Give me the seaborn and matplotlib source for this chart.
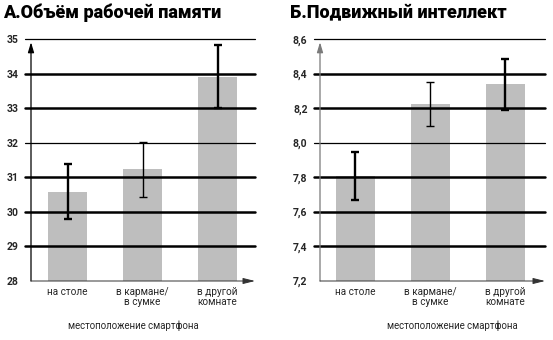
import matplotlib
matplotlib.use("Agg")
import matplotlib.pyplot as plt
import seaborn as sns
import pandas as pd

categories = ["на столе", "в кармане/\nв сумке", "в другой\nкомнате"]

wm_values = [30.59, 31.24, 33.92]
wm_errors = [0.80, 0.80, 0.92]
wm_ticks = [28, 29, 30, 31, 32, 33, 34, 35]
wm_ticklabels = ["28", "29", "30", "31", "32", "33", "34", "35"]

fi_values = [7.81, 8.225, 8.34]
fi_errors = [0.14, 0.13, 0.147]
fi_ticks = [7.2, 7.4, 7.6, 7.8, 8.0, 8.2, 8.4, 8.6]
fi_ticklabels = ["7,2", "7,4", "7,6", "7,8", "8,0", "8,2", "8,4", "8,6"]

titles = ["А.Объём рабочей памяти", "Б.Подвижный интеллект"]
xlabel = "местоположение смартфона"

sns.set_theme(style="white")
plt.rcParams["font.family"] = ["Roboto", "DejaVu Sans"]

W, H = 553, 340
fig = plt.figure(figsize=(W / 100, H / 100), dpi=100)

panels = [
    dict(left=31, right=255, xlim=(-0.487, 2.5), values=wm_values, errors=wm_errors,
         ticks=wm_ticks, labels=wm_ticklabels, thin=[32, 35], spine="black",
         title_x=3, xl_x=133),
    dict(left=320, right=545, xlim=(-0.473, 2.527), values=fi_values, errors=fi_errors,
         ticks=fi_ticks, labels=fi_ticklabels, thin=[8.0, 8.6], spine="#7a7a7a",
         title_x=290, xl_x=452),
]

top_px, bot_px = 39.3, 281
for i, p in enumerate(panels):
    ax = fig.add_axes([p["left"] / W, 1 - bot_px / H, (p["right"] - p["left"]) / W,
                       (bot_px - top_px) / H])
    df = pd.DataFrame({"cat": categories, "val": p["values"]})
    sns.barplot(data=df, x="cat", y="val", color="#bebebe", saturation=1,
                width=0.52, errorbar=None, ax=ax, zorder=1)
    for patch in ax.patches:
        patch.set_edgecolor("none")
    xs = list(range(len(categories)))
    for j in xs:
        lw = 1.0 if j == 1 else 1.7
        ax.errorbar(j, p["values"][j], yerr=p["errors"][j], fmt="none", ecolor="black",
                    elinewidth=lw, capsize=3.0, capthick=lw, zorder=4)
    ax.set_xlim(*p["xlim"])
    ax.set_ylim(p["ticks"][0], p["ticks"][-1])
    for t in p["ticks"][1:]:
        lw = 0.9 if any(abs(t - q) < 1e-9 for q in p["thin"]) else 1.8
        ax.axhline(t, xmin=-0.027, xmax=1.0, color="black", lw=lw, zorder=3, clip_on=False)
    ax.set_yticks(p["ticks"])
    ax.set_yticklabels(p["labels"], fontsize=7.5, fontweight="bold")
    ax.tick_params(axis="y", length=0, pad=9)
    ax.set_xticks(xs)
    ax.set_xticklabels(categories, fontsize=7.2, linespacing=1.0)
    ax.tick_params(axis="x", length=0, pad=4)
    ax.set_xlabel("")
    ax.set_ylabel("")
    for s in ax.spines.values():
        s.set_visible(False)
    ax.annotate("", xy=(0, 0.988), xytext=(0, 0), xycoords="axes fraction",
                arrowprops=dict(arrowstyle="-|>,head_length=0.5,head_width=0.15",
                                color=p["spine"], lw=0.9, shrinkA=0, shrinkB=0),
                annotation_clip=False)
    ax.annotate("", xy=(1.0, 0), xytext=(0, 0), xycoords="axes fraction",
                arrowprops=dict(arrowstyle="-|>,head_length=0.6,head_width=0.15",
                                color="#333333", lw=0.7, shrinkA=0, shrinkB=0),
                annotation_clip=False)
    fig.text(p["title_x"] / W, 1 - 3 / H, titles[i], fontsize=13, fontweight="heavy",
             ha="left", va="top", color="black")
    fig.text(p["xl_x"] / W, 1 - 326 / H, xlabel, fontsize=6.9, ha="center", va="center")

fig.savefig("out.png", dpi=100)
